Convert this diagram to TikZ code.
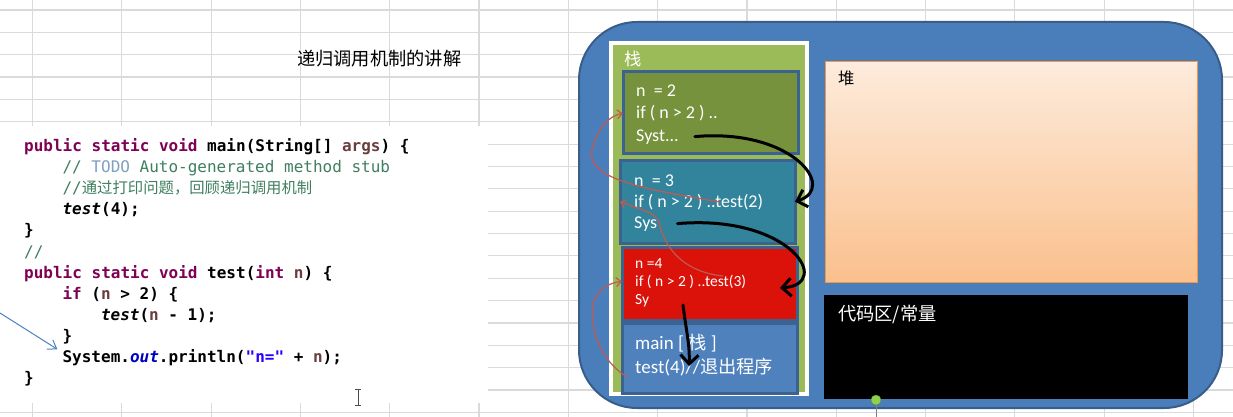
\documentclass[tikz,border=0pt]{standalone}
\usepackage{fontspec}
\setmainfont{Carlito}
\setmonofont{DejaVu Sans Mono}
\newfontfamily\cjk{Noto Sans CJK SC}[Scale=0.96]
\usetikzlibrary{arrows.meta}

\definecolor{gridgray}{RGB}{218,218,218}
\definecolor{ramblue}{RGB}{74,126,187}
\definecolor{ramedge}{RGB}{56,93,138}
\definecolor{stackgreen}{RGB}{155,187,89}
\definecolor{frameedge}{RGB}{59,98,145}
\definecolor{oliveframe}{RGB}{118,146,60}
\definecolor{tealframe}{RGB}{49,132,155}
\definecolor{redframe}{RGB}{218,18,10}
\definecolor{mainframe}{RGB}{79,129,189}
\definecolor{heaptop}{RGB}{253,235,220}
\definecolor{heapbottom}{RGB}{250,192,140}
\definecolor{heapedge}{RGB}{247,150,70}
\definecolor{returnred}{RGB}{192,90,80}
\definecolor{kwcolor}{RGB}{127,0,85}
\definecolor{commentcolor}{RGB}{63,127,95}
\definecolor{todocolor}{RGB}{127,159,191}
\definecolor{varcolor}{RGB}{106,62,62}
\definecolor{fieldcolor}{RGB}{0,0,192}
\definecolor{stringcolor}{RGB}{42,0,255}
\definecolor{pointerblue}{RGB}{79,129,189}
\definecolor{handlegreen}{RGB}{146,208,80}
\definecolor{handleedge}{RGB}{90,150,40}

\newcommand\javakw[1]{\textcolor{kwcolor}{#1}}
\newcommand\javacomment[1]{{\mdseries\color{commentcolor}#1}}
\newcommand\javavar[1]{\textcolor{varcolor}{#1}}

\tikzset{
  gridline/.style={gridgray, line width=1.2pt},
  frame/.style={draw=frameedge, line width=3pt, minimum width=175pt, inner sep=0pt, outer sep=0pt},
  frtext/.style={anchor=base west, inner sep=0pt, text=white, font=\fontsize{18}{22}\selectfont},
  codeline/.style={anchor=base west, inner sep=0pt, font=\ttfamily\bfseries\fontsize{16}{20}\selectfont},
  callarrow/.style={line width=3pt, line cap=round, -{Straight Barb[length=9pt,width=18pt]}},
  returnarrow/.style={returnred, line width=1.2pt, -{Straight Barb[length=5pt,width=9pt]}},
  pointerarrow/.style={pointerblue, line width=1pt, -{Straight Barb[length=8pt,width=11pt]}},
}

\begin{document}
\begin{tikzpicture}[x=1pt,y=-1pt]
  % sheet with its grid
  \fill[white] (0,0) rectangle (1233,417);
  \useasboundingbox (0,0) rectangle (1233,417);
  \foreach \i in {0,...,13} \draw[gridline] ({32.5+89.3*\i},0) -- ++(0,417);
  \foreach \j in {0,...,18} \draw[gridline] (0,{10+22.35*\j}) -- ++(1233,0);
  \fill[white] (0,126) rectangle (488,403);

  \node[anchor=base west, inner sep=0pt, font=\cjk\fontsize{19}{22}\selectfont] (title) at (297,66) {递归调用机制的讲解};

  % the java code
  \node[codeline] (main) at (24,151.5) {\javakw{public static void} main(String[] \javavar{args}) \{};
  \node[codeline] (todo) at (62.4,172.6) {\javacomment{// \textcolor{todocolor}{TODO} Auto-generated method stub}};
  \node[codeline] (note) at (62.4,193.7) {\javacomment{//{\cjk 通过打印问题，回顾递归调用机制}}};
  \node[codeline] (call) at (62.4,214.8) {\textit{test}(4);};
  \node[codeline] (mainend) at (24,235.9) {\}};
  \node[codeline] (slashes) at (24,257) {\javacomment{//}};
  \node[codeline] (testhead) at (24,278.1) {\javakw{public static void} test(\javakw{int} \javavar{n}) \{};
  \node[codeline] (iftest) at (62.4,299.2) {\javakw{if} (\javavar{n} > 2) \{};
  \node[codeline] (recall) at (100.8,320.3) {\textit{test}(\javavar{n} - 1);};
  \node[codeline] (ifend) at (62.4,341.4) {\}};
  \node[codeline] (println) at (62.4,362.5) {System.\textcolor{fieldcolor}{\textit{out}}.println(\textcolor{stringcolor}{"n="} + \javavar{n});};
  \node[codeline] (testend) at (24,383.6) {\}};

  \coordinate (pointerstart) at (0,313);
  \draw[pointerarrow] (pointerstart) -- ([xshift=-5pt]println.north west);

  % text cursor
  \draw[line width=1pt, black!70] (355,389) -- (361,389) (358,389) -- (358,405) (355,405) -- (361,405);

  % memory
  \draw[ramedge, fill=ramblue, line width=2pt, rounded corners=58pt] (579,22) rectangle (1222,408);
  \node[draw=white, line width=4pt, fill=stackgreen, minimum width=196pt, minimum height=351pt, inner sep=0pt] (stack) at (709,218.5) {};
  \node[anchor=base west, inner sep=0pt, text=white, font=\cjk\fontsize{18}{20}\selectfont] (stacklabel) at (624,66) {栈};

  \node[frame, fill=oliveframe, minimum height=81pt] (fr2) at (710.5,112.5) {};
  \node[frame, fill=tealframe, minimum height=83pt] (fr3) at (707.5,201.5) {};
  \node[frame, fill=redframe, minimum height=73pt] (fr4) at (709.5,283.5) {};
  \node[frame, fill=mainframe, minimum height=70pt] (frm) at (709.5,358) {};

  \node[frtext] (l2a) at (636,97) {n \ = 2};
  \node[frtext] (l2b) at (636,119) {if ( n > 2 ) ..};
  \node[frtext] (l2c) at (636,141) {Syst...};
  \node[frtext] (l3a) at (634,186) {n \ = 3};
  \node[frtext] (l3b) at (634,207) {if ( n > 2 ) ..test(2)};
  \node[frtext] (l3c) at (634,228) {Sys};
  \node[frtext, font=\fontsize{15.5}{18}\selectfont] (l4a) at (635,268) {n =4};
  \node[frtext, font=\fontsize{15.5}{18}\selectfont] (l4b) at (635,286) {if ( n > 2 ) ..test(3)};
  \node[frtext, font=\fontsize{15.5}{18}\selectfont] (l4c) at (635,304) {Sy};
  \node[frtext, font=\fontsize{19}{22}\selectfont] (lma) at (635,349) {main [ {\cjk 栈} ]};
  \node[frtext, font=\fontsize{19}{22}\selectfont] (lmb) at (635,373) {test(4)//{\cjk 退出程序}};

  \node[draw=heapedge, line width=1pt, top color=heaptop, bottom color=heapbottom, minimum width=372pt, minimum height=220pt, inner sep=0pt] (heap) at (1011,172) {};
  \node[anchor=base west, inner sep=0pt, font=\cjk\fontsize{17}{20}\selectfont] (heaplabel) at (838,85) {堆};
  \node[fill=black, minimum width=364pt, minimum height=104pt, inner sep=0pt] (codearea) at (1006,347) {};
  \node[anchor=base west, inner sep=0pt, text=white, font=\cjk\fontsize{19}{22}\selectfont] (codelabel) at (838,320) {代码区/常量};

  \node[circle, draw=handleedge, fill=handlegreen, minimum size=10pt, inner sep=0pt] (handle) at (876,400) {};
  \draw[gray, line width=1pt] (handle.south) -- ++(0,12);

  % calls and returns
  \coordinate (call2) at (720,202);
  \coordinate (call3) at (723,276);
  \coordinate (call4) at (627,377);
  \coordinate (tip4) at (780,288);
  \coordinate (exit4) at (683,305);
  \coordinate (tipm) at (689,366);

  \draw[returnarrow] (call2) .. controls (650,190) and (585,180) .. (592,150) .. controls (597,128) and (610,115) .. (l2b -| fr2.west);
  \draw[returnarrow] (call3) .. controls (685,272) and (665,250) .. (659,222) .. controls (656,212) and (636,208) .. (l3b -| fr3.west);
  \draw[returnarrow] (call4) .. controls (600,360) and (590,330) .. (593,305) .. controls (596,290) and (608,283) .. (l4b -| fr4.west);

  \draw[callarrow] ([xshift=16pt]l2c.east) .. controls (792,128) and (838,188) .. (l3b -| fr3.east);
  \draw[callarrow] ([xshift=20pt]l3c.east) .. controls (790,214) and (834,284) .. (tip4);
  \draw[callarrow] (exit4) .. controls (686,330) and (690,345) .. (tipm);
\end{tikzpicture}
\end{document}
